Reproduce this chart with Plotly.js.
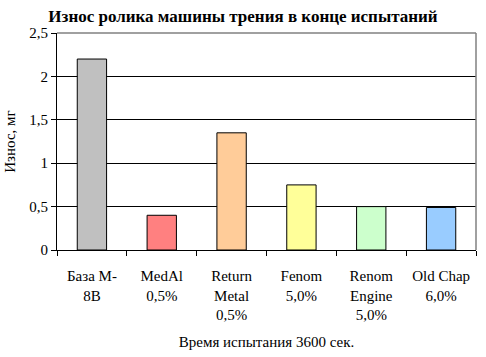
<!DOCTYPE html>
<html><head><meta charset="utf-8">
<script src="https://cdn.plot.ly/plotly-3.0.1.min.js"></script>
</head><body style="margin:0">
<div id="c" style="width:486px;height:357px"></div>
<script>
const categories = ["База М-<br>8В", "MedAl<br>0,5%", "Return<br>Metal<br>0,5%", "Fenom<br>5,0%", "Renom<br>Engine<br>5,0%", "Old Chap<br>6,0%"];
const values = [2.2, 0.4, 1.35, 0.75, 0.5, 0.49];
const colors = ["#C0C0C0", "#FF8080", "#FFCC99", "#FFFF99", "#CCFFCC", "#99CCFF"];
const yTicks = [0, 0.5, 1, 1.5, 2, 2.5];

Plotly.newPlot("c", [{
  type: "bar", x: categories, y: values,
  marker: {color: colors, line: {color: "#000", width: 1}},
  hoverinfo: "none"
}], {
  width: 486, height: 357,
  margin: {l: 57, r: 10, t: 33, b: 107},
  separators: ", ",
  bargap: 0.58,
  showlegend: false,
  font: {family: "Liberation Serif"},
  title: {text: "<b>Износ ролика машины трения в конце испытаний</b>", font: {family: "Liberation Serif", size: 17, color: "#000"},
          x: 0.5, xref: "container", y: 0.955, yanchor: "middle"},
  xaxis: {
    type: "category", tickson: "boundaries", ticks: "outside", ticklen: 5, tickcolor: "#000",
    showline: true, linecolor: "#000", linewidth: 1, showgrid: false, zeroline: false,
    ticklabelstandoff: 12,
    tickfont: {family: "Liberation Serif", size: 15, color: "#000"},
    title: {text: "Время испытания 3600 сек.", font: {family: "Liberation Serif", size: 15, color: "#000"}, standoff: 14}
  },
  yaxis: {
    range: [0, 2.5], tickvals: yTicks, ticks: "outside", ticklen: 5, tickcolor: "#000",
    showline: true, linecolor: "#000", linewidth: 1, showgrid: true, gridcolor: "#000", gridwidth: 1,
    zeroline: false,
    tickfont: {family: "Liberation Serif", size: 15, color: "#000"},
    title: {text: "Износ, мг", font: {family: "Liberation Serif", size: 15, color: "#000"}, standoff: 10}
  },
  shapes: [
    {type: "line", xref: "paper", yref: "paper", x0: 0, x1: 1, y0: 1, y1: 1, line: {color: "#808080", width: 1.5}, layer: "above"},
    {type: "line", xref: "paper", yref: "paper", x0: 1, x1: 1, y0: 0, y1: 1, line: {color: "#808080", width: 1.5}, layer: "above"}
  ]
}, {displayModeBar: false});
</script></body></html>
